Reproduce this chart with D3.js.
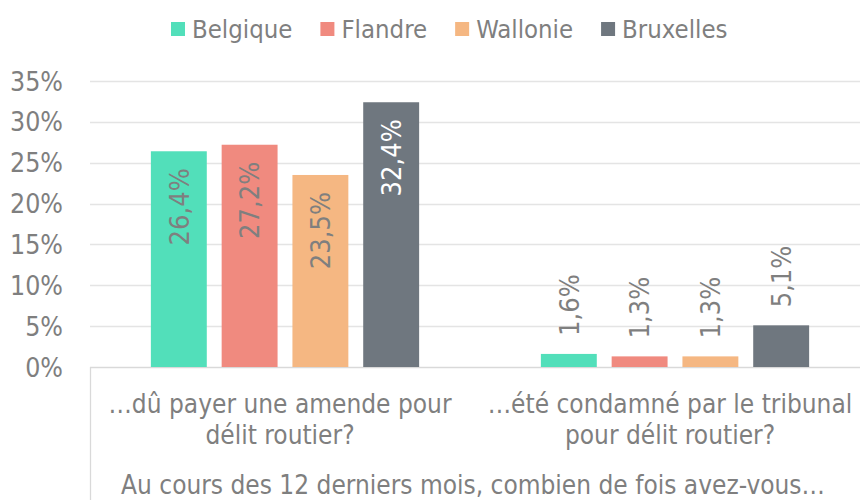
<!DOCTYPE html>
<html>
<head>
<meta charset="utf-8">
<script src="https://cdn.jsdelivr.net/npm/d3@7/dist/d3.min.js"></script>
<style>
  body { margin: 0; background: #fff; }
  text { font-family: "DejaVu Sans Condensed", "DejaVu Sans", sans-serif; fill: #7f7f7f; }
</style>
</head>
<body>
<div id="container"></div>
<script>
/**
 * DATA
 * */
const categories = [
  ["\u2026dû payer une amende pour", "délit routier?"],
  ["\u2026été condamné par le tribunal", "pour délit routier?"]
];
const series = ["Belgique", "Flandre", "Wallonie", "Bruxelles"];
const colors = ["#52dfba", "#f08a7f", "#f5b782", "#6f777f"];
// values per series, one per category (percent)
const belgique = [26.4, 1.6];
const flandre = [27.2, 1.3];
const wallonie = [23.5, 1.3];
const bruxelles = [32.4, 5.1];
const yTicks = [0, 5, 10, 15, 20, 25, 30, 35];
const axisTitle = "Au cours des 12 derniers mois, combien de fois avez-vous\u2026";

const values = [belgique, flandre, wallonie, bruxelles];

/**
 * CONSTANTS
 * */
const width = 860, height = 500;
const margin = { left: 90, right: -10, top: 81, bottom: 133 };

const svg = d3.select("#container")
  .append("svg")
  .attr("width", width)
  .attr("height", height);

const x0 = d3.scaleBand()
  .domain(d3.range(categories.length))
  .range([margin.left, width - margin.right])
  .padding(0);

const x1 = d3.scaleBand()
  .domain(series)
  .range([0, x0.bandwidth()])
  .paddingInner(0.21)
  .paddingOuter(0.86);

const y = d3.scaleLinear()
  .domain([0, 35])
  .range([height - margin.bottom, margin.top]);

// gridlines
svg.append("g")
  .selectAll("line")
  .data(yTicks)
  .join("line")
  .attr("x1", margin.left)
  .attr("x2", width)
  .attr("y1", d => Math.round(y(d)) + 0.5)
  .attr("y2", d => Math.round(y(d)) + 0.5)
  .attr("stroke", d => d === 0 ? "#d9d9d9" : "#e4e4e4")
  .attr("stroke-width", 1.3);

// left border of the category axis
svg.append("line")
  .attr("x1", margin.left + 0.5)
  .attr("x2", margin.left + 0.5)
  .attr("y1", y(0))
  .attr("y2", height)
  .attr("stroke", "#d9d9d9")
  .attr("stroke-width", 1.3);

// y tick labels
svg.append("g")
  .selectAll("text")
  .data(yTicks)
  .join("text")
  .attr("x", 63)
  .attr("y", d => y(d))
  .attr("dy", "0.36em")
  .attr("text-anchor", "end")
  .attr("font-size", 26.5)
  .text(d => d + "%");

// bars
const flat = [];
values.forEach((vals, si) => {
  vals.forEach((v, ci) => flat.push({ s: series[si], si, ci, v }));
});

svg.append("g")
  .selectAll("rect")
  .data(flat)
  .join("rect")
  .attr("x", d => x0(d.ci) + x1(d.s))
  .attr("y", d => y(d.v))
  .attr("width", x1.bandwidth())
  .attr("height", d => y(0) - y(d.v))
  .attr("fill", d => colors[d.si]);

// value labels
const fmt = v => v.toFixed(1).replace(".", ",") + "%";
svg.append("g")
  .selectAll("text")
  .data(flat)
  .join("text")
  .attr("transform", d => {
    const cx = x0(d.ci) + x1(d.s) + x1.bandwidth() / 2;
    const inside = d.v > 10;
    const ty = inside ? y(d.v) + 17 : y(d.v) - 18;
    return `translate(${cx},${ty}) rotate(-90)`;
  })
  .attr("text-anchor", d => d.v > 10 ? "end" : "start")
  .attr("dy", "0.36em")
  .attr("font-size", 27)
  .style("fill", d => d.v > 10 && d.s === "Bruxelles" ? "#ffffff" : "#7f7f7f")
  .text(d => fmt(d.v));

// category labels
const cat = svg.append("g")
  .selectAll("text")
  .data(categories)
  .join("text")
  .attr("x", (d, i) => x0(i) + x0.bandwidth() / 2 - 5)
  .attr("y", 413)
  .attr("text-anchor", "middle")
  .attr("font-size", 26);
cat.selectAll("tspan")
  .data(d => d)
  .join("tspan")
  .attr("x", function () { return this.parentNode.getAttribute("x"); })
  .attr("dy", (d, i) => i === 0 ? 0 : 31)
  .text(d => d);

// axis title
svg.append("text")
  .attr("x", 473)
  .attr("y", 494)
  .attr("text-anchor", "middle")
  .attr("font-size", 26)
  .text(axisTitle);

// legend
const legend = svg.append("g");
let lx = 171;
series.forEach((s, i) => {
  legend.append("rect")
    .attr("x", lx)
    .attr("y", 22)
    .attr("width", 14)
    .attr("height", 14)
    .attr("fill", colors[i]);
  const t = legend.append("text")
    .attr("x", lx + 21)
    .attr("y", 38)
    .attr("font-size", 25.5)
    .text(s);
  lx += 21 + t.node().getComputedTextLength() + 28;
});
</script>
</body>
</html>
